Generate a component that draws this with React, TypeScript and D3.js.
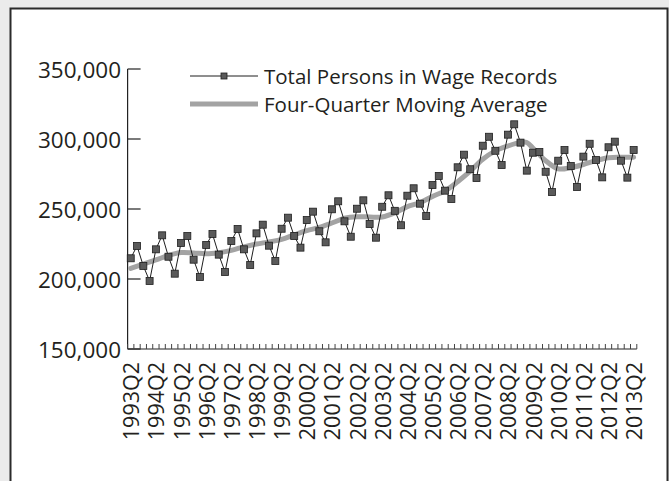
import React from "react";
import * as d3 from "d3";

// Categories: quarters 1993Q2 .. 2013Q2
const startYear = 1993;
const quarters: string[] = [];
for (let i = 0; i < 81; i++) {
  const q = ((1 + i) % 4) + 1;
  const yr = startYear + Math.floor((1 + i) / 4);
  quarters.push(`${yr}Q${q}`);
}

const tickLabels = [
  "1993Q2", "1994Q2", "1995Q2", "1996Q2", "1997Q2", "1998Q2", "1999Q2",
  "2000Q2", "2001Q2", "2002Q2", "2003Q2", "2004Q2", "2005Q2", "2006Q2",
  "2007Q2", "2008Q2", "2009Q2", "2010Q2", "2011Q2", "2012Q2", "2013Q2",
];

const yTicks = [150000, 200000, 250000, 300000, 350000];

const totalPersons = [
  214800, 223600, 209300, 198600, 221200, 231200, 215900, 203800,
  225700, 230700, 213800, 201400, 224300, 232100, 217400, 205000,
  227100, 235700, 221200, 210000, 232600, 238800, 223800, 212900,
  235900, 243800, 230700, 222400, 242100, 248100, 234100, 226200,
  249800, 255500, 241200, 230200, 250200, 256200, 239300, 229500,
  251600, 259800, 248700, 238400, 259500, 264800, 253800, 245000,
  267100, 273600, 263100, 257100, 279800, 288800, 278400, 272100,
  295200, 301600, 291600, 281400, 303100, 310500, 297400, 277400,
  290200, 290700, 276600, 262100, 284500, 292100, 280700, 265700,
  287400, 296600, 285000, 272600, 294100, 298100, 284500, 272400,
  292100,
];

// Four-quarter moving average, read at these quarter positions
const maIndex = [
  0, 4, 6, 8, 10, 12, 14, 16, 18, 20, 22, 24, 26, 28, 30, 32, 34, 36, 38, 40,
  42, 44, 46, 48, 50, 52, 54, 56, 58, 60, 62, 63, 64, 66, 68, 70, 72, 74, 76,
  78, 80,
];
const maValues = [
  207600, 213600, 216800, 218900, 218600, 218000, 218800, 220400, 223000,
  225000, 226500, 228300, 231500, 234500, 236800, 240000, 243400, 244500,
  244300, 244300, 247200, 251700, 254500, 259000, 263000, 269500, 277000,
  285500, 291500, 295000, 297600, 297500, 293400, 284500, 278700, 279500,
  281800, 284500, 286600, 286900, 286900,
];

const FONT = "'Open Sans', sans-serif";
const TEXT = "#231f20";

export default function App() {
  const W = 669;
  const H = 481;
  const left = 127.6;
  const right = 636.8;
  const top = 69;
  const bottom = 349;

  const x = d3.scaleBand<string>().domain(quarters).range([left, right]).padding(0);
  const bw = x.bandwidth();
  const cx = (q: string) => (x(q) as number) + bw / 2;
  const y = d3.scaleLinear().domain([150000, 350000]).range([bottom, top]);
  const fmt = d3.format(",");

  const dataLine = d3
    .line<number>()
    .x((_, i) => cx(quarters[i]))
    .y((d) => y(d))(totalPersons) as string;

  const maLine = d3
    .line<number>()
    .x((_, i) => cx(quarters[maIndex[i]]))
    .y((d) => y(d))
    .curve(d3.curveCatmullRom.alpha(0.5))(maValues) as string;

  const bandEdges = quarters.map((q) => x(q) as number).concat([right]);

  return (
    <svg
      width={W}
      height={H}
      style={{ position: "absolute", left: 0, top: 0, display: "block" }}
    >
      <rect x={0} y={0} width={W} height={H} fill="#ebebeb" />
      <rect x={10.5} y={8.5} width={657} height={490} fill="#ffffff" stroke="#2b2b2b" strokeWidth={2} />

      {/* y axis */}
      <line x1={left} x2={left} y1={top} y2={bottom} stroke="#222" strokeWidth={1.2} />
      {yTicks.map((t) => (
        <g key={t}>
          <line x1={left} x2={left + 13} y1={y(t)} y2={y(t)} stroke="#222" strokeWidth={1.2} />
          <text
            x={121}
            y={y(t)}
            textAnchor="end"
            dominantBaseline="central"
            fontFamily={FONT}
            fontSize={22.5}
            fill={TEXT}
          >
            {fmt(t)}
          </text>
        </g>
      ))}

      {/* x axis */}
      <line x1={left} x2={right} y1={bottom} y2={bottom} stroke="#222" strokeWidth={1.2} />
      {bandEdges.map((e, i) => (
        <line key={i} x1={e} x2={e} y1={bottom} y2={bottom - 5} stroke="#444" strokeWidth={1} />
      ))}
      {tickLabels.map((lab) => (
        <text
          key={lab}
          transform={`translate(${cx(lab)},${bottom + 13}) rotate(-90)`}
          textAnchor="end"
          dominantBaseline="central"
          fontFamily={FONT}
          fontSize={21.5}
          fill={TEXT}
        >
          {lab}
        </text>
      ))}

      {/* moving average */}
      <path d={maLine} fill="none" stroke="#a3a3a3" strokeWidth={5} strokeLinecap="round" />

      {/* data line */}
      <path d={dataLine} fill="none" stroke="#1e1e1e" strokeWidth={1} />
      {totalPersons.map((v, i) => (
        <rect
          key={i}
          x={cx(quarters[i]) - 3.5}
          y={y(v) - 3.5}
          width={7}
          height={7}
          fill="#5a5a5a"
          stroke="#1e1e1e"
          strokeWidth={0.8}
        />
      ))}

      {/* legend */}
      <line x1={190} x2={258} y1={76} y2={76} stroke="#1e1e1e" strokeWidth={1} />
      <rect x={221} y={73} width={6} height={6} fill="#5a5a5a" stroke="#1e1e1e" strokeWidth={0.8} />
      <text x={264} y={76} dominantBaseline="central" fontFamily={FONT} fontSize={20.5} fill={TEXT}>
        Total Persons in Wage Records
      </text>
      <line x1={190} x2={258} y1={104} y2={104} stroke="#a3a3a3" strokeWidth={5} />
      <text x={264} y={104} dominantBaseline="central" fontFamily={FONT} fontSize={20.5} fill={TEXT}>
        Four-Quarter Moving Average
      </text>
    </svg>
  );
}
